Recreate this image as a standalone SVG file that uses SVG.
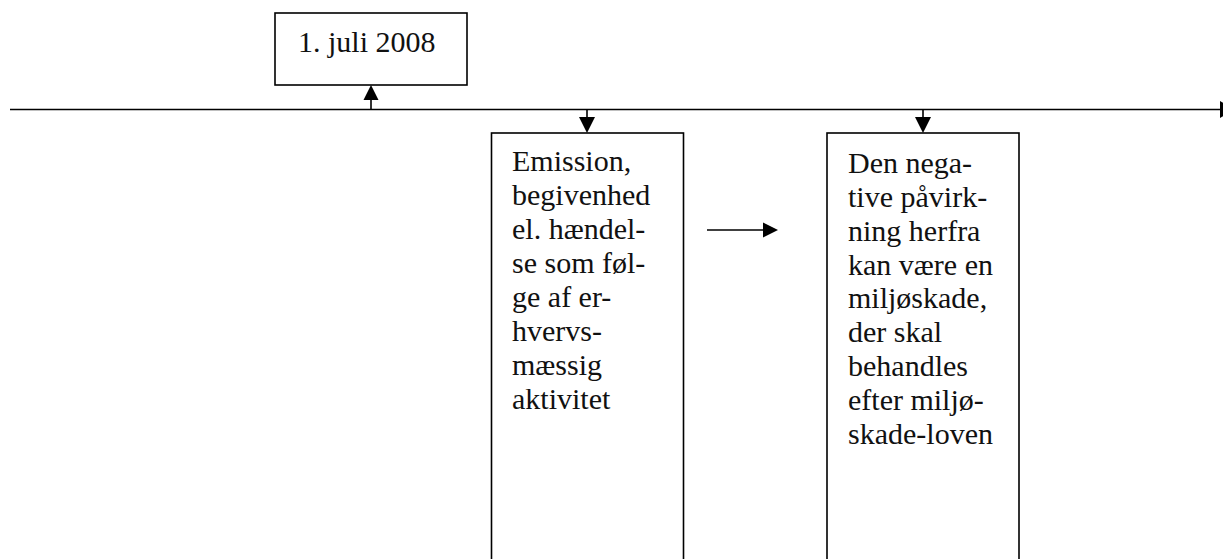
<svg xmlns="http://www.w3.org/2000/svg" width="1223" height="559" viewBox="0 0 1223 559">
<style>
.box{fill:#fff;stroke:#000;stroke-width:1.6}
.ln{stroke:#000;stroke-width:1.6;fill:none}
.hd{fill:#000;stroke:none}
text{font-family:"Liberation Serif","DejaVu Serif",serif;font-size:30px;fill:#111}
</style>
<rect width="1223" height="559" fill="#fff"/>
<g id="connectors">
<line class="ln" x1="10" y1="109.5" x2="1222" y2="109.5"/>
<polygon class="hd" points="1220,101 1234,109.5 1220,118"/>
<line class="ln" x1="371" y1="109.5" x2="371" y2="98"/>
<polygon class="hd" points="371,85 363.5,100 378.5,100"/>
<line class="ln" x1="587" y1="109.5" x2="587" y2="119"/>
<polygon class="hd" points="587,133 579,117 595,117"/>
<line class="ln" x1="923" y1="109.5" x2="923" y2="119"/>
<polygon class="hd" points="923,133 915,117 931,117"/>
<line class="ln" x1="707" y1="230" x2="765" y2="230"/>
<polygon class="hd" points="778,230 763,222.5 763,237.5"/>
</g>
<g id="node-date">
<rect class="box" x="275" y="13" width="192" height="72"/>
<text x="298" y="52">1. juli 2008</text>
</g>
<g id="node-emission">
<rect class="box" x="491.5" y="133" width="192" height="440"/>
<text x="512">
<tspan x="512" y="171">Emission,</tspan>
<tspan x="512" y="205">begivenhed</tspan>
<tspan x="512" y="239">el. hændel-</tspan>
<tspan x="512" y="273">se som føl-</tspan>
<tspan x="512" y="307">ge af er-</tspan>
<tspan x="512" y="341">hvervs-</tspan>
<tspan x="512" y="375">mæssig</tspan>
<tspan x="512" y="409">aktivitet</tspan>
</text>
</g>
<g id="node-paavirkning">
<rect class="box" x="827" y="133" width="192" height="440"/>
<text x="848">
<tspan x="848" y="173">Den nega-</tspan>
<tspan x="848" y="207">tive påvirk-</tspan>
<tspan x="848" y="241">ning herfra</tspan>
<tspan x="848" y="275">kan være en</tspan>
<tspan x="848" y="308">miljøskade,</tspan>
<tspan x="848" y="342">der skal</tspan>
<tspan x="848" y="376">behandles</tspan>
<tspan x="848" y="410">efter miljø-</tspan>
<tspan x="848" y="444">skade-loven</tspan>
</text>
</g>
</svg>
